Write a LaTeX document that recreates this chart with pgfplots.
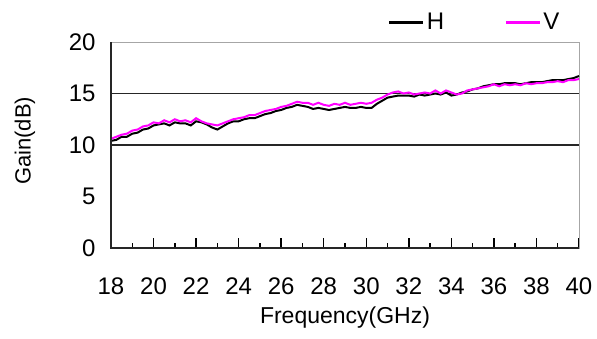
\documentclass[border=0pt]{standalone}
\usepackage{pgfplots}
\pgfplotsset{compat=1.18}
\usepackage{fontspec}
\setmainfont{Liberation Sans}
\definecolor{vmag}{RGB}{255,0,255}
\pgfplotstableread{
f g
18.00 10.4
18.25 10.5
18.50 10.8
18.75 10.8
19.00 11.1
19.25 11.2
19.50 11.5
19.75 11.6
20.00 11.9
20.25 12.0
20.50 12.1
20.75 11.9
21.00 12.2
21.25 12.1
21.50 12.1
21.75 11.9
22.00 12.3
22.25 12.2
22.50 12.0
22.75 11.7
23.00 11.5
23.25 11.8
23.50 12.1
23.75 12.3
24.00 12.3
24.25 12.5
24.50 12.6
24.75 12.6
25.00 12.8
25.25 13.0
25.50 13.1
25.75 13.3
26.00 13.4
26.25 13.6
26.50 13.7
26.75 13.9
27.00 13.8
27.25 13.7
27.50 13.5
27.75 13.6
28.00 13.5
28.25 13.4
28.50 13.5
28.75 13.6
29.00 13.7
29.25 13.6
29.50 13.6
29.75 13.7
30.00 13.6
30.25 13.6
30.50 14.0
30.75 14.3
31.00 14.6
31.25 14.7
31.50 14.8
31.75 14.8
32.00 14.8
32.25 14.7
32.50 14.9
32.75 14.8
33.00 14.9
33.25 15.0
33.50 14.9
33.75 15.1
34.00 14.8
34.25 14.9
34.50 15.1
34.75 15.2
35.00 15.4
35.25 15.5
35.50 15.7
35.75 15.8
36.00 15.9
36.25 15.9
36.50 16.0
36.75 16.0
37.00 16.0
37.25 15.9
37.50 16.0
37.75 16.1
38.00 16.1
38.25 16.1
38.50 16.2
38.75 16.3
39.00 16.3
39.25 16.3
39.50 16.4
39.75 16.5
40.00 16.7
}\Hdata
\pgfplotstableread{
f g
18.00 10.6
18.25 10.8
18.50 11.0
18.75 11.1
19.00 11.4
19.25 11.5
19.50 11.8
19.75 11.9
20.00 12.2
20.25 12.1
20.50 12.4
20.75 12.2
21.00 12.5
21.25 12.3
21.50 12.4
21.75 12.2
22.00 12.6
22.25 12.3
22.50 12.1
22.75 12.0
23.00 11.9
23.25 12.1
23.50 12.3
23.75 12.5
24.00 12.6
24.25 12.7
24.50 12.9
24.75 12.9
25.00 13.1
25.25 13.3
25.50 13.4
25.75 13.5
26.00 13.7
26.25 13.8
26.50 14.0
26.75 14.2
27.00 14.1
27.25 14.1
27.50 13.9
27.75 14.1
28.00 13.9
28.25 13.8
28.50 14.0
28.75 13.9
29.00 14.1
29.25 13.9
29.50 14.0
29.75 14.1
30.00 14.0
30.25 14.1
30.50 14.4
30.75 14.6
31.00 14.9
31.25 15.1
31.50 15.2
31.75 15.0
32.00 15.1
32.25 14.9
32.50 15.0
32.75 15.1
33.00 15.0
33.25 15.3
33.50 15.0
33.75 15.3
34.00 15.1
34.25 14.9
34.50 15.0
34.75 15.3
35.00 15.4
35.25 15.5
35.50 15.6
35.75 15.7
36.00 15.9
36.25 15.7
36.50 15.9
36.75 15.8
37.00 15.9
37.25 15.8
37.50 16.0
37.75 15.9
38.00 16.0
38.25 16.0
38.50 16.1
38.75 16.1
39.00 16.2
39.25 16.1
39.50 16.3
39.75 16.3
40.00 16.4
}\Vdata
\begin{document}
\begin{tikzpicture}
\useasboundingbox (-111pt,-90pt) rectangle (486pt,248pt);
\begin{axis}[
  at={(0,0)}, anchor=south west,
  scale only axis, width=468pt, height=206pt,
  xmin=18, xmax=40, ymin=0, ymax=20,
  /pgf/number format/assume math mode=true,
  xtick={18,20,...,40},
  minor xtick={19,21,...,39},
  xtick pos=lower,
  ytick pos=left,
  ytick={0,5,10,15,20},
  minor ytick={10,15},
  yminorgrids=true,
  minor y grid style={black!85, line width=1.6pt},
  ytick style={draw=none},
  extra y ticks={2.5,20},
  extra y tick labels={},
  extra y tick style={major tick length=6pt, tick style={black, line width=1.2pt}},
  xtick style={black, line width=1.5pt},
  major tick length=10pt,
  minor tick length=5pt,
  tick align=inside,
  axis line style={draw=gray!70, line width=1pt},
  font=\fontsize{23}{27}\selectfont,
  tick label style={font=\fontsize{24}{28}\selectfont, black},
  xticklabel style={yshift=-26pt},
  yticklabel style={xshift=-12pt},
  xlabel={Frequency(GHz)},
  ylabel={Gain(dB)},
  every axis x label/.style={at={(axis description cs:0.5,0)}, yshift=-70pt, anchor=center, font=\fontsize{23}{27}\selectfont},
  every axis y label/.style={at={(axis description cs:0,0.52)}, xshift=-86pt, rotate=90, anchor=center, font=\fontsize{22}{26}\selectfont},
  legend columns=2,
  legend style={draw=none, fill=none, at={(axis description cs:0.585,1.097)}, anchor=west,
    font=\fontsize{24}{28}\selectfont, /tikz/every even column/.append style={column sep=58pt}},
  legend image code/.code={\draw[#1, line width=3pt] (0pt,0pt) -- (34pt,0pt);},
  clip=false,
]
\addplot[black, line width=2pt] table[x=f,y=g] {\Hdata};
\addlegendentry{H}
\addplot[vmag, line width=2pt] table[x=f,y=g] {\Vdata};
\addlegendentry{V}
\draw[black!85, line width=2.2pt] (rel axis cs:0,1) -- (rel axis cs:0,0) -- (rel axis cs:1,0);
\end{axis}
\end{tikzpicture}
\end{document}
